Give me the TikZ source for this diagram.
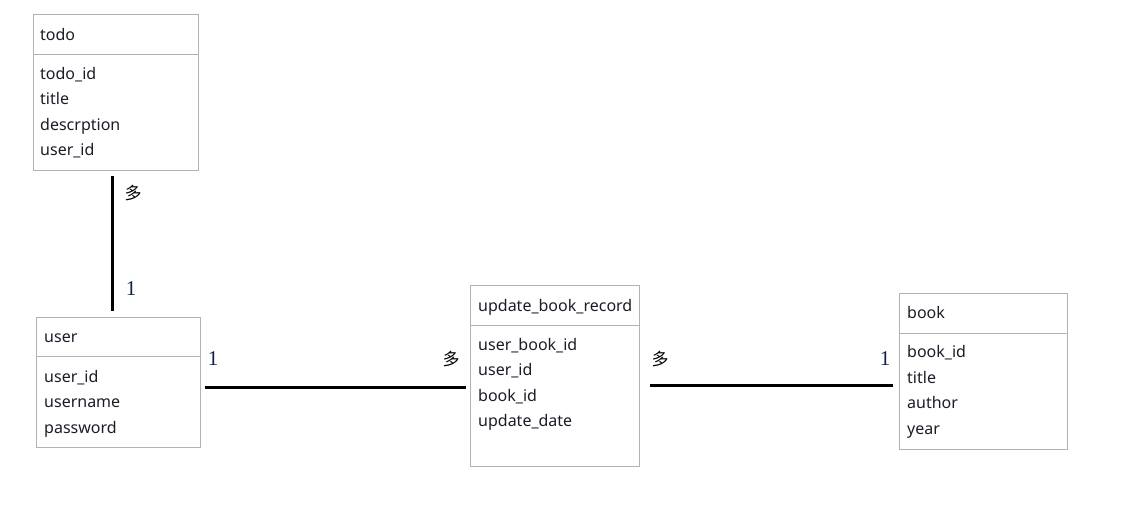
\documentclass[tikz,border=0pt]{standalone}
\usepackage{fontspec}
\setmainfont{Noto Sans}
\newfontfamily\cjkfont{Noto Sans CJK SC}
\newfontfamily\serfont{Liberation Serif}
\definecolor{boxgray}{HTML}{B3B3B3}
\definecolor{txtc}{HTML}{1C1C28}
\definecolor{lblc}{HTML}{10204A}
\begin{document}
\begin{tikzpicture}[x=1pt,y=-1pt,
  box/.style={draw=boxgray,line width=1pt,inner sep=0pt,anchor=north west,fill=none},
  sep/.style={draw=boxgray,line width=1pt},
  txt/.style={anchor=base west,inner sep=0pt,text=txtc,font=\fontsize{16}{19}\selectfont},
  conn/.style={line width=3pt,black},
  one/.style={inner sep=0pt,text=lblc,font=\serfont\fontsize{21}{24}\selectfont},
  many/.style={inner sep=0pt,text=black,font=\cjkfont\fontsize{17}{20}\selectfont}]
\useasboundingbox (0,0) rectangle (1130,504);
% todo
\node[box,minimum width=165pt,minimum height=156pt] (todo) at (33,14) {};
\draw[sep] (todo.west |- 0,54) -- (todo.east |- 0,54);
\node[txt] (todoh) at (40,40) {todo};
\node[txt] (todo1) at (40,79) {todo\_id};
\node[txt] (todo2) at (40,104.5) {title};
\node[txt] (todo3) at (40,130) {descrption};
\node[txt] (todo4) at (40,155.5) {user\_id};
% user
\node[box,minimum width=164pt,minimum height=130pt] (user) at (36,317) {};
\draw[sep] (user.west |- 0,356) -- (user.east |- 0,356);
\node[txt] (userh) at (44,342) {user};
\node[txt] (user1) at (44,382) {user\_id};
\node[txt] (user2) at (44,407.5) {username};
\node[txt] (user3) at (44,433) {password};
% update_book_record
\node[box,minimum width=169pt,minimum height=181pt] (upd) at (470,285) {};
\draw[sep] (upd.west |- 0,325) -- (upd.east |- 0,325);
\node[txt] (updh) at (478,311) {update\_book\_record};
\node[txt] (upd1) at (478,350) {user\_book\_id};
\node[txt] (upd2) at (478,375.5) {user\_id};
\node[txt] (upd3) at (478,401) {book\_id};
\node[txt] (upd4) at (478,426.5) {update\_date};
% book
\node[box,minimum width=168pt,minimum height=156pt] (book) at (899,293) {};
\draw[sep] (book.west |- 0,333) -- (book.east |- 0,333);
\node[txt] (bookh) at (907,318.5) {book};
\node[txt] (book1) at (907,357.5) {book\_id};
\node[txt] (book2) at (907,383) {title};
\node[txt] (book3) at (907,408.5) {author};
\node[txt] (book4) at (907,434) {year};
% connectors
\draw[conn] ([shift={(-3.5,5)}]todo.south) -- ([shift={(-6,-6)}]user.north);
\draw[conn] ([shift={(4,5)}]user.east) -- ([shift={(-4,11.5)}]upd.west);
\draw[conn] ([shift={(10,9.5)}]upd.east) -- ([shift={(-6,14)}]book.west);
% cardinality labels
\node[many] (m1) at (133,193) {多};
\node[one] (o1) at (131,289) {1};
\node[one] (o2) at (213,359) {1};
\node[many] (m2) at (451,359) {多};
\node[many] (m3) at (660,359) {多};
\node[one] (o3) at (885,359) {1};
\end{tikzpicture}
\end{document}
